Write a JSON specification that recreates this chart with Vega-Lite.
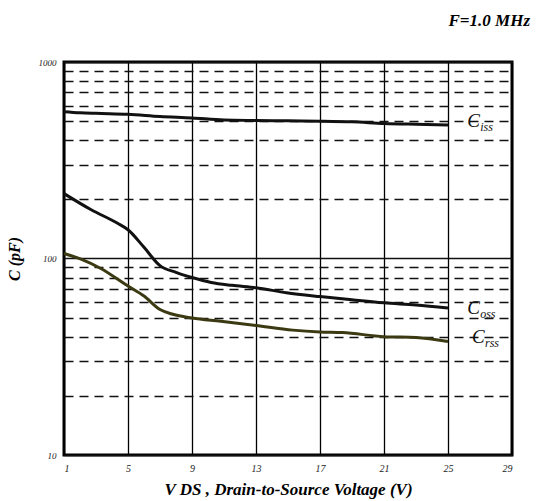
{
  "$schema": "https://vega.github.io/schema/vega-lite/v6.json",
  "width": 448,
  "height": 393,
  "autosize": {"type": "none"},
  "padding": {"left": 64, "top": 62, "right": 24, "bottom": 46},
  "background": "white",
  "title": {
    "text": "F=1.0 MHz",
    "anchor": "end",
    "font": "Liberation Serif",
    "fontStyle": "italic",
    "fontWeight": "bold",
    "fontSize": 17,
    "color": "black",
    "offset": 28,
    "dx": 18
  },
  "config": {
    "view": {"stroke": "black", "strokeWidth": 3},
    "axis": {"domain": false, "ticks": false}
  },
  "datasets": {
    "curves": [
      {"series": "Ciss", "V": 1, "C": 559},
      {"series": "Ciss", "V": 2, "C": 552},
      {"series": "Ciss", "V": 3, "C": 548},
      {"series": "Ciss", "V": 5, "C": 542},
      {"series": "Ciss", "V": 7, "C": 528},
      {"series": "Ciss", "V": 9, "C": 519},
      {"series": "Ciss", "V": 11, "C": 507},
      {"series": "Ciss", "V": 13, "C": 504},
      {"series": "Ciss", "V": 15, "C": 502},
      {"series": "Ciss", "V": 17, "C": 500},
      {"series": "Ciss", "V": 19, "C": 496},
      {"series": "Ciss", "V": 21, "C": 487},
      {"series": "Ciss", "V": 23, "C": 482},
      {"series": "Ciss", "V": 25, "C": 478},
      {"series": "Coss", "V": 1, "C": 214},
      {"series": "Coss", "V": 2.7, "C": 177},
      {"series": "Coss", "V": 4.35, "C": 151},
      {"series": "Coss", "V": 5, "C": 140},
      {"series": "Coss", "V": 6, "C": 114},
      {"series": "Coss", "V": 7, "C": 92},
      {"series": "Coss", "V": 8, "C": 85},
      {"series": "Coss", "V": 9, "C": 80},
      {"series": "Coss", "V": 10.2, "C": 75.5},
      {"series": "Coss", "V": 11.5, "C": 73},
      {"series": "Coss", "V": 13, "C": 71},
      {"series": "Coss", "V": 14.9, "C": 67},
      {"series": "Coss", "V": 17, "C": 64},
      {"series": "Coss", "V": 19, "C": 61.6},
      {"series": "Coss", "V": 21, "C": 59.5},
      {"series": "Coss", "V": 23, "C": 58},
      {"series": "Coss", "V": 25, "C": 56},
      {"series": "Crss", "V": 1, "C": 106},
      {"series": "Crss", "V": 2.1, "C": 99},
      {"series": "Crss", "V": 3.3, "C": 89},
      {"series": "Crss", "V": 5, "C": 72.4},
      {"series": "Crss", "V": 6, "C": 64.4},
      {"series": "Crss", "V": 7, "C": 55},
      {"series": "Crss", "V": 7.8, "C": 52},
      {"series": "Crss", "V": 9, "C": 49.8},
      {"series": "Crss", "V": 10.8, "C": 47.9},
      {"series": "Crss", "V": 13, "C": 45.6},
      {"series": "Crss", "V": 15.3, "C": 43.2},
      {"series": "Crss", "V": 17, "C": 42.3},
      {"series": "Crss", "V": 18.4, "C": 42},
      {"series": "Crss", "V": 21, "C": 40},
      {"series": "Crss", "V": 23, "C": 39.6},
      {"series": "Crss", "V": 25, "C": 37.8}
    ],
    "labels": [
      {"series": "Ciss", "main": "C", "sub": "iss", "V": 26.2, "C": 500},
      {"series": "Coss", "main": "C", "sub": "oss", "V": 26.2, "C": 56},
      {"series": "Crss", "main": "C", "sub": "rss", "V": 26.5, "C": 40}
    ]
  },
  "layer": [
    {
      "data": {"name": "curves"},
      "mark": {"type": "line", "strokeWidth": 3, "interpolate": "monotone"},
      "encoding": {
        "x": {
          "field": "V",
          "type": "quantitative",
          "scale": {"domain": [1, 29], "nice": false, "zero": false},
          "axis": {
            "values": [1, 5, 9, 13, 17, 21, 25, 29],
            "grid": true,
            "gridColor": "black",
            "gridWidth": 1.3,
            "gridOpacity": 1,
            "labelFont": "Liberation Serif",
            "labelFontStyle": "italic",
            "labelFontSize": 10,
            "labelColor": "#222",
            "labelPadding": 8,
            "title": "V DS , Drain-to-Source Voltage (V)",
            "titleFont": "Liberation Serif",
            "titleFontStyle": "italic",
            "titleFontWeight": "bold",
            "titleFontSize": 17,
            "titleColor": "black",
            "titlePadding": 8
          }
        },
        "y": {
          "field": "C",
          "type": "quantitative",
          "scale": {"type": "log", "domain": [10, 1000], "nice": false},
          "axis": {
            "values": [10, 20, 30, 40, 50, 60, 70, 80, 90, 100, 200, 300, 400, 500, 600, 700, 800, 900, 1000],
            "grid": true,
            "gridColor": "#111",
            "gridOpacity": 1,
            "gridWidth": {"condition": {"test": "datum.value == 100", "value": 1.6}, "value": 1.4},
            "gridDash": {"condition": {"test": "datum.value == 100 || datum.value == 10 || datum.value == 1000", "value": []}, "value": [9, 6]},
            "labelExpr": "datum.value == 10 || datum.value == 100 || datum.value == 1000 ? format(datum.value, 'd') : ''",
            "labelFont": "Liberation Serif",
            "labelFontStyle": "italic",
            "labelFontSize": 9,
            "labelColor": "#222",
            "labelPadding": 8,
            "title": "C (pF)",
            "titleFont": "Liberation Serif",
            "titleFontStyle": "italic",
            "titleFontWeight": "bold",
            "titleFontSize": 16,
            "titleColor": "black",
            "titlePadding": 16
          }
        },
        "color": {
          "field": "series",
          "type": "nominal",
          "scale": {"domain": ["Ciss", "Coss", "Crss"], "range": ["#111111", "#111111", "#3b3a12"]},
          "legend": null
        },
        "detail": {"field": "series"}
      }
    },
    {
      "data": {"name": "labels"},
      "mark": {"type": "text", "align": "left", "baseline": "middle", "font": "Liberation Serif", "fontStyle": "italic", "fontSize": 19, "color": "#111"},
      "encoding": {
        "x": {"field": "V", "type": "quantitative"},
        "y": {"field": "C", "type": "quantitative"},
        "text": {"field": "main"}
      }
    },
    {
      "data": {"name": "labels"},
      "mark": {"type": "text", "align": "left", "baseline": "middle", "font": "Liberation Serif", "fontStyle": "italic", "fontSize": 12, "color": "#111", "dx": 13, "dy": 6},
      "encoding": {
        "x": {"field": "V", "type": "quantitative"},
        "y": {"field": "C", "type": "quantitative"},
        "text": {"field": "sub"}
      }
    }
  ]
}
